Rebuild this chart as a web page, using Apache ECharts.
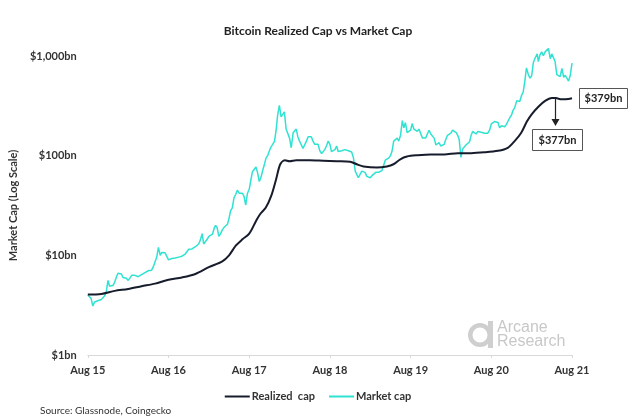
<!DOCTYPE html>
<html>
<head>
<meta charset="utf-8">
<script src="https://cdn.jsdelivr.net/npm/echarts@6/dist/echarts.min.js"></script>
<style>
html,body{margin:0;padding:0;background:#fff;}
#chart{width:636px;height:420px;}
</style>
</head>
<body>
<div id="chart"></div>
<script>
// ---- data ----
const xTickLabels = ['Aug 15','Aug 16','Aug 17','Aug 18','Aug 19','Aug 20','Aug 21'];
const yTickLabels = {1:'$1bn',10:'$10bn',100:'$100bn',1000:'$1,000bn'};

const realizedDates = ['2015-08-01','2015-10-01','2015-12-01','2016-02-01','2016-04-01','2016-06-01','2016-08-01','2016-10-01','2016-12-01','2017-02-01','2017-04-01','2017-05-01','2017-06-01','2017-07-01','2017-08-01','2017-09-01','2017-09-20','2017-10-15','2017-11-10','2017-12-01','2017-12-20','2018-01-10','2018-02-01','2018-03-01','2018-05-01','2018-07-01','2018-09-01','2018-11-01','2018-12-01','2019-01-01','2019-03-01','2019-04-15','2019-05-15','2019-06-15','2019-07-15','2019-09-01','2019-11-01','2020-01-01','2020-03-01','2020-05-01','2020-07-01','2020-09-01','2020-10-15','2020-11-15','2020-12-15','2021-01-10','2021-02-01','2021-03-01','2021-04-01','2021-05-01','2021-05-20','2021-06-15','2021-07-15','2021-08-01'];
const realizedCap = [4.05,4.1,4.4,4.6,4.9,5.2,5.7,6.0,6.5,7.6,8.7,10.0,12.5,14.5,16.5,22,26,30,40,58,82,90,88,90,90,89,88,87,82,78,76,78,82,92,98,101,103,103,106,106,108,112,120,140,170,220,260,310,355,379,378,368,370,377];

// market cap: four readings per month (days 1, 8, 16, 24)
const marketMonths = ['2015-08','2015-09','2015-10','2015-11','2015-12','2016-01','2016-02','2016-03','2016-04','2016-05','2016-06','2016-07','2016-08','2016-09','2016-10','2016-11','2016-12','2017-01','2017-02','2017-03','2017-04','2017-05','2017-06','2017-07','2017-08','2017-09','2017-10','2017-11','2017-12','2018-01','2018-02','2018-03','2018-04','2018-05','2018-06','2018-07','2018-08','2018-09','2018-10','2018-11','2018-12','2019-01','2019-02','2019-03','2019-04','2019-05','2019-06','2019-07','2019-08','2019-09','2019-10','2019-11','2019-12','2020-01','2020-02','2020-03','2020-04','2020-05','2020-06','2020-07','2020-08','2020-09','2020-10','2020-11','2020-12','2021-01','2021-02','2021-03','2021-04','2021-05','2021-06','2021-07'];
const marketDays = ['01','08','16','24'];
const marketCap = [
  4.0,3.9,3.7,3.1,  3.4,3.3,3.5,3.5,  3.6,3.7,3.9,4.3,  5.6,4.9,4.8,5.0,  5.4,6.0,6.6,6.4,
  6.5,6.0,5.8,5.9,  5.6,5.9,6.3,6.2,  6.3,6.2,6.1,6.3,  6.4,6.5,6.7,7.0,  7.0,7.2,7.1,7.7,
  8.6,9.5,12.0,10.0,  10.7,10.4,10.6,10.3,  9.0,9.1,9.3,9.2,  9.4,9.6,9.6,9.5,  9.8,9.8,10.3,10.6,
  11.5,11.0,11.6,11.7,  12.2,12.3,13.0,14.3,  16.5,13.0,13.5,14.5,  15.5,16.0,16.3,19.0,  20.0,19.0,15.5,16.5,
  18.0,19.0,19.5,20.5,  23.5,28,30,38,  41,45,42,42,  42,39,32,42,  46,56,69,71,
  77,68,55,61,  71,80,94,100,  112,122,130,140,  180,255,320,245,  255,275,185,190,
  150,120,170,175,  185,155,140,135,  118,115,140,155,  160,155,140,130,  128,130,112,105,
  108,115,125,140,  130,110,108,115,  125,110,112,112,  112,115,113,112,  110,109,95,70,
  70,60,58,70,  68,68,62,62,  60,63,64,68,  67,68,70,71,  72,90,92,95,
  100,110,140,140,  150,140,160,225,  190,215,170,170,  180,210,185,180,  175,185,180,150,
  150,150,145,180,  165,160,150,128,  130,135,125,130,  130,145,160,158,  168,180,185,170,
  160,145,96,117,  118,128,130,138,  160,175,172,165,  175,178,172,170,  168,170,168,180,
  208,215,220,215,  215,190,200,195,  195,205,210,240,  255,285,305,355,  360,350,400,435,
  570,760,660,600,  630,860,960,1050,  880,1020,1100,1010,  1100,1080,1190,940,  1050,1080,880,650,
  680,620,750,610,  640,630,560,640
];
const marketLastDate = '2021-08-01';
const marketLast = 850;

const annotHigh = '$379bn';
const annotNow = '$377bn';

// month offset from Aug 2015
function toMonths(s){
  const [y,m,d] = s.split('-').map(Number);
  const dim = new Date(y, m, 0).getDate();
  return (y-2015)*12 + (m-8) + (d-1)/dim;
}
const realizedData = realizedDates.map((d,i)=>[toMonths(d), realizedCap[i]]);
const marketDates = [];
marketMonths.forEach(m=>marketDays.forEach(d=>marketDates.push(m+'-'+d)));
marketDates.push(marketLastDate);
const marketVals = marketCap.concat([marketLast]);
const marketData = marketDates.map((d,i)=>[toMonths(d), marketVals[i]]);

const FONT = 'Lato';
const chart = echarts.init(document.getElementById('chart'), null, {renderer:'canvas'});
chart.setOption({
  animation:false,
  backgroundColor:'#ffffff',
  textStyle:{fontFamily:FONT},
  title:{
    text:'Bitcoin Realized Cap vs Market Cap',
    left:'center', top:20,
    textStyle:{fontFamily:FONT,fontSize:12,fontWeight:'bold',color:'#222'}
  },
  grid:{left:71,right:64,top:56,bottom:65,containLabel:false},
  legend:{
    data:['Realized  cap','Market cap'],
    top:386, left:'center',
    icon:'rect', itemWidth:25, itemHeight:2, itemGap:14,
    textStyle:{fontFamily:FONT,fontSize:11,fontWeight:'bold',color:'#333',padding:[0,0,0,-3]}
  },
  xAxis:{
    type:'value', min:0, max:72, interval:12,
    axisLine:{show:true,lineStyle:{color:'#d9d9d9',width:1}},
    axisTick:{show:true,length:3,lineStyle:{color:'#d9d9d9'}},
    splitLine:{show:false},
    axisLabel:{
      margin:10, fontFamily:FONT, fontSize:11, fontWeight:'bold', color:'#333',
      formatter:(v)=>xTickLabels[Math.round(v/12)] || ''
    }
  },
  yAxis:{
    type:'log', logBase:10, min:1, max:1000,
    name:'Market Cap (Log Scale)', nameLocation:'middle', nameGap:52,
    nameTextStyle:{fontFamily:FONT,fontSize:11,fontWeight:'bold',color:'#333'},
    axisLine:{show:false}, axisTick:{show:false}, splitLine:{show:false},
    axisLabel:{
      margin:11, fontFamily:FONT, fontSize:11, fontWeight:'bold', color:'#333',
      formatter:(v)=>yTickLabels[Math.round(v)] || ''
    }
  },
  series:[
    {name:'Market cap', type:'line', data:marketData, symbol:'none', smooth:false, clip:false,
     lineStyle:{color:'#30e2d2',width:1.5}, itemStyle:{color:'#30e2d2'}, z:2},
    {name:'Realized  cap', type:'line', data:realizedData, symbol:'none', smooth:0.3, clip:false,
     lineStyle:{color:'#161c2c',width:2}, itemStyle:{color:'#161c2c'}, z:3}
  ],
  graphic:[
    {type:'text', left:40, top:406, style:{text:'Source: Glassnode, Coingecko', font:'10px '+FONT, fill:'#333'}},
    // annotations
    {type:'rect', shape:{x:579.5,y:88.5,width:48,height:20}, style:{fill:'#fff',stroke:'#555',lineWidth:1}, z:10},
    {type:'text', x:603.5, y:98.5, style:{text:annotHigh, font:'bold 11px '+FONT, fill:'#222', textAlign:'center', textVerticalAlign:'middle'}, z:11},
    {type:'rect', shape:{x:532.5,y:129.5,width:50,height:21}, style:{fill:'#fff',stroke:'#555',lineWidth:1}, z:10},
    {type:'text', x:557.5, y:140, style:{text:annotNow, font:'bold 11px '+FONT, fill:'#222', textAlign:'center', textVerticalAlign:'middle'}, z:11},
    {type:'line', shape:{x1:555.5,y1:98,x2:555.5,y2:120}, style:{stroke:'#222',lineWidth:1.2}, z:10},
    {type:'polygon', shape:{points:[[551.5,119],[559.5,119],[555.5,126]]}, style:{fill:'#222'}, z:10},
    // watermark logo
    {type:'ring', shape:{cx:480,cy:335,r:12,r0:7.5}, style:{fill:'#cfcfcf'}, z:1},
    {type:'rect', shape:{x:488,y:321,width:5,height:27}, style:{fill:'#cfcfcf'}, z:1},
    {type:'text', left:497, top:320, style:{text:'Arcane', font:'16px "Liberation Sans"', fill:'#c8c8c8'}, z:1},
    {type:'text', left:497, top:334, style:{text:'Research', font:'16px "Liberation Sans"', fill:'#c8c8c8'}, z:1}
  ]
});
</script>
</body>
</html>
